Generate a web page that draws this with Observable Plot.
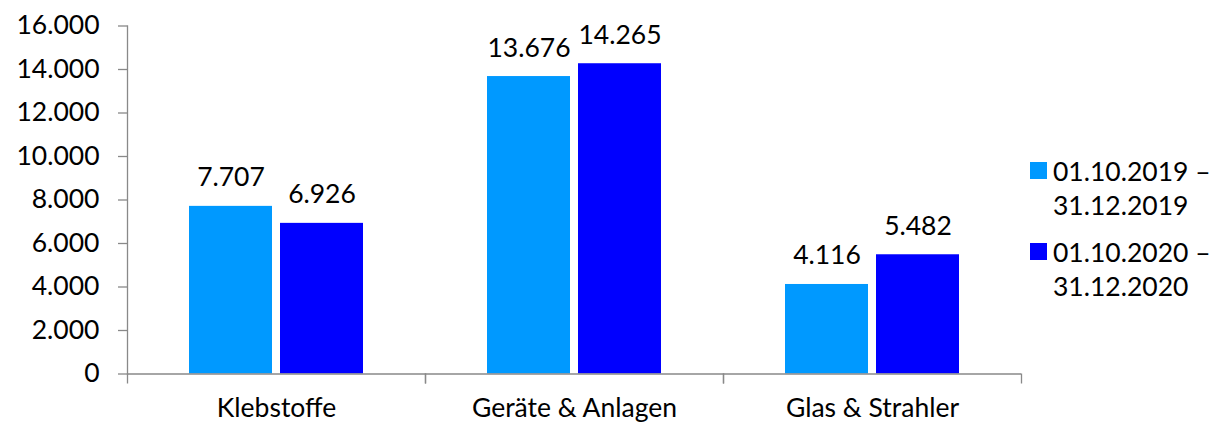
<!DOCTYPE html>
<html>
<head>
<meta charset="utf-8">
<script src="https://cdn.jsdelivr.net/npm/d3@7"></script>
<script src="https://cdn.jsdelivr.net/npm/@observablehq/plot@0.6"></script>
<style>
  html, body { margin: 0; padding: 0; background: #fff; }
  #wrap { position: relative; width: 1216px; height: 424px; overflow: hidden; font-family: Lato, "Open Sans", sans-serif; }
  .leg { position: absolute; left: 1030px; font-size: 26.5px; line-height: 34px; color: #000; }
  .leg .sw { position: absolute; left: 0; width: 17px; height: 17px; }
  .leg .tx { position: absolute; left: 23px; white-space: nowrap; }
</style>
</head>
<body>
<div id="wrap"></div>
<script>
const categories = ["Klebstoffe", "Geräte & Anlagen", "Glas & Strahler"];
const seriesNames = ["01.10.2019 – 31.12.2019", "01.10.2020 – 31.12.2020"];
const seriesLines = [["01.10.2019 –", "31.12.2019"], ["01.10.2020 –", "31.12.2020"]];
const values2019 = [7707, 13676, 4116];
const values2020 = [6926, 14265, 5482];
const yTicks = [0, 2000, 4000, 6000, 8000, 10000, 12000, 14000, 16000];
const colors = ["#0099ff", "#0000ff"];

const data = [];
categories.forEach((c, i) => {
  data.push({category: c, series: seriesNames[0], value: values2019[i]});
  data.push({category: c, series: seriesNames[1], value: values2020[i]});
});

const de = d3.formatLocale({decimal: ",", thousands: ".", grouping: [3], currency: ["", " €"]});
const fmt = de.format(",");

const W = 1216, H = 424, ML = 127, MR = 195, MT = 25.5, MB = 50.5;
const half = (W - ML - MR) / categories.length / 2;
const axisColor = "#898989";
const FS = 26.5;

const chart = Plot.plot({
  width: W, height: H,
  marginLeft: ML, marginRight: MR, marginTop: MT, marginBottom: MB,
  style: {fontFamily: "Lato, 'Open Sans', sans-serif", fontSize: FS + "px", color: "#000", background: "#fff"},
  fx: {domain: categories, paddingInner: 0, paddingOuter: 0, axis: null, label: null},
  x: {domain: seriesNames, paddingInner: 0.0934, paddingOuter: 0.684, axis: null, label: null},
  y: {domain: [0, 16000], axis: null, label: null},
  color: {domain: seriesNames, range: colors},
  marks: [
    Plot.barY(data, {fx: "category", x: "series", y: "value", fill: "series"}),
    Plot.text(data, {fx: "category", x: "series", y: "value", text: d => fmt(d.value), dy: -20, lineAnchor: "bottom", fontSize: FS, fill: "#000"}),
    Plot.ruleY([0], {stroke: axisColor, strokeWidth: 1.3}),
    Plot.frame({anchor: "left", facetAnchor: "left", stroke: axisColor, strokeWidth: 1.3}),
    Plot.axisY({ticks: yTicks, tickFormat: fmt, tickSize: 9, tickPadding: 19, stroke: axisColor, strokeWidth: 1.3, fontSize: FS, fill: "#000", label: null}),
    Plot.axisFx({anchor: "bottom", tickSize: 0, tickPadding: 24, fontSize: FS, fill: "#000", label: null}),
    Plot.axisFx({anchor: "bottom", tickSize: 10, tickFormat: () => "", dx: -half, stroke: axisColor, strokeWidth: 1.3, label: null}),
    Plot.axisFx({anchor: "bottom", tickSize: 10, tickFormat: () => "", dx: half, stroke: axisColor, strokeWidth: 1.3, label: null})
  ]
});

const wrap = document.getElementById("wrap");
wrap.appendChild(chart);

const legTops = [153.5, 235];
seriesLines.forEach((lines, i) => {
  const d = document.createElement("div");
  d.className = "leg";
  d.style.top = legTops[i] + "px";
  const sw = document.createElement("div");
  sw.className = "sw";
  sw.style.background = colors[i];
  sw.style.top = "8px";
  d.appendChild(sw);
  lines.forEach((t, j) => {
    const s = document.createElement("div");
    s.className = "tx";
    s.style.top = (j * 34) + "px";
    s.textContent = t;
    d.appendChild(s);
  });
  wrap.appendChild(d);
});
</script>
</body>
</html>
